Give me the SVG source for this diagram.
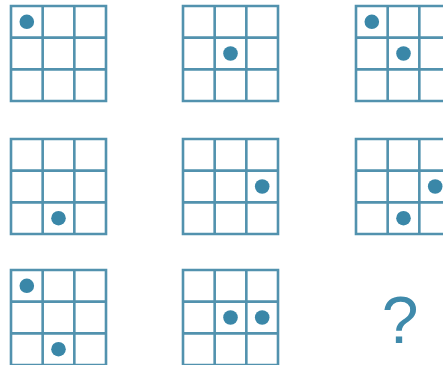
<svg xmlns="http://www.w3.org/2000/svg" xmlns:xlink="http://www.w3.org/1999/xlink" width="443" height="365" viewBox="0 0 443 365">
<style>
.grid{fill:none;stroke:#5292ae;stroke-width:2.6}
.dot{fill:#3a87a8}
.q{font-family:"Liberation Sans",Arial,sans-serif;font-size:66px;fill:#3f8aab;text-anchor:middle}
</style>
<defs>
<path id="g" class="grid" d="M0,0H95V95H0Z M31.67,0V95 M63.33,0V95 M0,31.67H95 M0,63.33H95"/>
</defs>
<rect width="443" height="365" fill="#fff"/>
<g id="n1" transform="translate(11,6)"><use xlink:href="#g" href="#g"/><circle class="dot" cx="15.8" cy="15.8" r="7.3"/></g>
<g id="n2" transform="translate(183,6)"><use xlink:href="#g" href="#g"/><circle class="dot" cx="47.5" cy="47.5" r="7.3"/></g>
<g id="n3" transform="translate(356,6)"><use xlink:href="#g" href="#g"/><circle class="dot" cx="15.8" cy="15.8" r="7.3"/><circle class="dot" cx="47.5" cy="47.5" r="7.3"/></g>
<g id="n4" transform="translate(11,139)"><use xlink:href="#g" href="#g"/><circle class="dot" cx="47.5" cy="79.2" r="7.3"/></g>
<g id="n5" transform="translate(183,139)"><use xlink:href="#g" href="#g"/><circle class="dot" cx="79.2" cy="47.5" r="7.3"/></g>
<g id="n6" transform="translate(356,139)"><use xlink:href="#g" href="#g"/><circle class="dot" cx="79.2" cy="47.5" r="7.3"/><circle class="dot" cx="47.5" cy="79.2" r="7.3"/></g>
<g id="n7" transform="translate(11,270)"><use xlink:href="#g" href="#g"/><circle class="dot" cx="15.8" cy="15.8" r="7.3"/><circle class="dot" cx="47.5" cy="79.2" r="7.3"/></g>
<g id="n8" transform="translate(183,270)"><use xlink:href="#g" href="#g"/><circle class="dot" cx="47.5" cy="47.5" r="7.3"/><circle class="dot" cx="79.2" cy="47.5" r="7.3"/></g>
<g id="n9"><text class="q" x="400" y="343">?</text></g>
<g id="connectors"></g>
</svg>
